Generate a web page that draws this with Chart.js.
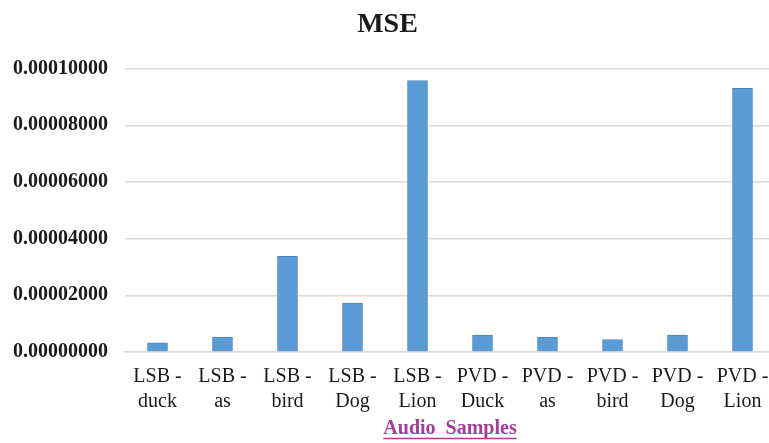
<!DOCTYPE html>
<html>
<head>
<meta charset="utf-8">
<script src="https://cdn.jsdelivr.net/npm/chart.js@4"></script>
<style>
  html, body { margin: 0; padding: 0; background: #fff; overflow: hidden; }
  #wrap { width: 800px; height: 443px; }
</style>
</head>
<body>
<div id="wrap"><canvas id="mseChart" width="800" height="443"></canvas></div>
<script>
// Chart data
const categories = [
    ['LSB -', 'duck'], ['LSB -', 'as'], ['LSB -', 'bird'], ['LSB -', 'Dog'], ['LSB -', 'Lion'],
    ['PVD -', 'Duck'], ['PVD -', 'as'], ['PVD -', 'bird'], ['PVD -', 'Dog'], ['PVD -', 'Lion']
];
const mseValues = [
    0.0000032, 0.0000053, 0.0000338, 0.0000173, 0.0000958,
    0.0000060, 0.0000053, 0.0000044, 0.0000060, 0.0000930
];
const yTicks = [0, 0.00002, 0.00004, 0.00006, 0.00008, 0.0001];

const serif = '"Liberation Serif", "Times New Roman", serif';

// Underline for the x-axis title
const underlinePlugin = {
    id: 'underlineTitle',
    afterDraw(chart) {
        const x = chart.scales.x;
        const ctx = chart.ctx;
        const text = x.options.title.text;
        ctx.save();
        ctx.font = 'bold 20px ' + serif;
        const w = ctx.measureText(text).width;
        const cx = (x.left + x.right) / 2;
        ctx.strokeStyle = '#a43c9c';
        ctx.lineWidth = 1.5;
        ctx.beginPath();
        ctx.moveTo(cx - w / 2, 438.5);
        ctx.lineTo(cx + w / 2, 438.5);
        ctx.stroke();
        ctx.restore();
    }
};

const ctx = document.getElementById('mseChart').getContext('2d');
new Chart(ctx, {
    type: 'bar',
    data: {
        labels: categories,
        datasets: [{
            label: 'MSE',
            data: mseValues,
            backgroundColor: '#5b9bd5',
            borderColor: '#4a87c4',
            borderWidth: 1,
            barThickness: 20
        }]
    },
    options: {
        responsive: false,
        animation: false,
        layout: { padding: { left: 0, right: 25, top: 0, bottom: 0 } },
        plugins: {
            legend: { display: false },
            tooltip: { enabled: false },
            title: {
                display: true,
                text: 'MSE',
                color: '#1a1a1a',
                font: { family: serif, size: 28, weight: 'bold' },
                padding: { top: 8, bottom: 27 }
            }
        },
        scales: {
            x: {
                afterFit(scale) { scale.height = 91; },
                grid: { display: false, drawTicks: false },
                border: { display: true, color: '#d9d9d9', width: 1.5 },
                ticks: {
                    color: '#1a1a1a',
                    font: { family: serif, size: 20, lineHeight: 1.25 },
                    padding: 12,
                    maxRotation: 0,
                    autoSkip: false
                },
                title: {
                    display: true,
                    text: 'Audio  Samples',
                    color: '#a43c9c',
                    font: { family: serif, size: 20, weight: 'bold' },
                    padding: { top: 0, bottom: 2 }
                }
            },
            y: {
                min: 0,
                max: 0.0001,
                afterBuildTicks(scale) {
                    scale.ticks = yTicks.map(v => ({ value: v }));
                },
                afterFit(scale) { scale.width = 125; },
                grid: { color: '#d9d9d9', lineWidth: 1.5, drawTicks: false },
                border: { display: false },
                ticks: {
                    color: '#1a1a1a',
                    padding: 17,
                    font: { family: serif, size: 20, weight: 'bold' },
                    callback: v => Number(v).toFixed(8)
                }
            }
        }
    },
    plugins: [underlinePlugin]
});
</script>
</body>
</html>
